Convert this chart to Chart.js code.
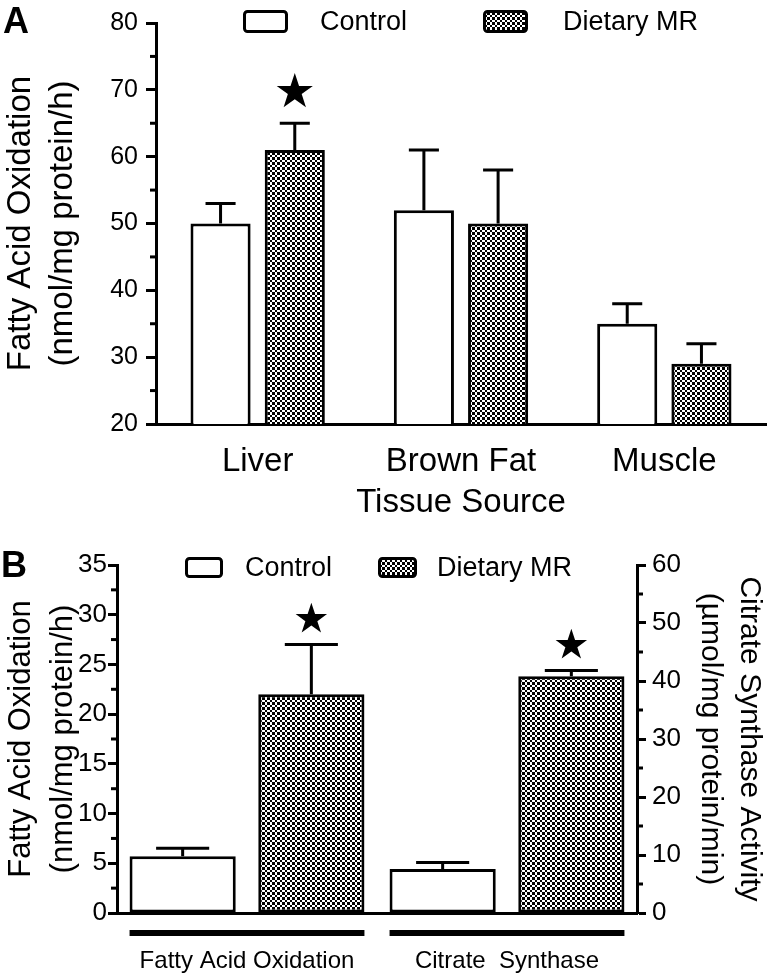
<!DOCTYPE html>
<html><head><meta charset="utf-8">
<script src="https://cdn.jsdelivr.net/npm/chart.js@4/dist/chart.umd.min.js"></script>
<style>
html,body{margin:0;padding:0;background:#fff;}
#wrap{position:relative;width:771px;height:974px;overflow:hidden;font-family:"Liberation Sans",Arial,sans-serif;}
.panel{position:absolute;left:0;width:771px;}
#pA{top:0;height:530px}
#pB{top:530px;height:444px}
.letter{position:absolute;font-weight:bold;font-size:36px;line-height:1;color:#000;}
</style></head><body>
<div id="wrap">
 <div class="panel" id="pA"><canvas id="cA" width="771" height="530"></canvas></div>
 <div class="panel" id="pB"><canvas id="cB" width="771" height="444"></canvas></div>
 <div class="letter" style="left:3px;top:3px">A</div>
 <div class="letter" style="left:1px;top:547px">B</div>
</div>
<script>
// ---------- Panel A data ----------
const tissueLabels = ['Liver', 'Brown Fat', 'Muscle'];
const controlA = [50, 52, 35];
const controlAErr = [3, 9, 3];
const mrA = [61, 50, 29];
const mrAErr = [4, 8, 3];
const sigControlA = [false, false, false];
const sigMrA = [true, false, false];
const yTicksA = [20, 30, 40, 50, 60, 70, 80];

// ---------- Panel B data ----------
const measureLabels = ['Fatty Acid Oxidation', 'Citrate  Synthase'];
const controlFAO = 5.7, controlFAOErr = 0.8;
const mrFAO = 22, mrFAOErr = 5;
const controlCS = 7.6, controlCSErr = 1.1;
const mrCS = 40.8, mrCSErr = 1.0;
const sigB = [false, true, false, true];
const yTicksBLeft = [0, 5, 10, 15, 20, 25, 30, 35];
const yTicksBRight = [0, 10, 20, 30, 40, 50, 60];

Chart.defaults.font.family = '"Liberation Sans", Arial, sans-serif';
Chart.defaults.color = '#000';

function makePattern() {
  const c = document.createElement('canvas');
  c.width = 5; c.height = 5;
  const g = c.getContext('2d');
  g.fillStyle = '#fff'; g.fillRect(0, 0, 5, 5);
  g.fillStyle = '#000'; g.fillRect(0, 0, 2, 2); g.fillRect(2, 2, 3, 3);
  return g.createPattern(c, 'repeat');
}
const checker = makePattern();

function drawStar(ctx, cx, cy, R) {
  const r = R * 0.382;
  ctx.beginPath();
  for (let k = 0; k < 10; k++) {
    const rad = k % 2 === 0 ? R : r;
    const a = -Math.PI / 2 + k * Math.PI / 5;
    const px = cx + rad * Math.cos(a), py = cy + rad * Math.sin(a);
    if (k === 0) ctx.moveTo(px, py); else ctx.lineTo(px, py);
  }
  ctx.closePath();
  ctx.fill();
}

const errorBarsPlugin = {
  id: 'errorBars',
  afterDatasetsDraw(chart, args, opts) {
    const ctx = chart.ctx;
    ctx.save();
    ctx.strokeStyle = '#000'; ctx.fillStyle = '#000'; ctx.lineWidth = 3;
    chart.data.datasets.forEach((ds, di) => {
      const meta = chart.getDatasetMeta(di);
      const ys = chart.scales[meta.yAxisID];
      meta.data.forEach((bar, i) => {
        const v = ds.data[i];
        if (v === null || v === undefined) return;
        const e = ds.errors[i];
        const yTop = ys.getPixelForValue(v + e);
        const half = bar.width / 4;
        ctx.beginPath();
        ctx.moveTo(bar.x, bar.y); ctx.lineTo(bar.x, yTop);
        ctx.moveTo(bar.x - half, yTop); ctx.lineTo(bar.x + half, yTop);
        ctx.stroke();
        if (ds.sig && ds.sig[i]) {
          const R = opts.starR;
          drawStar(ctx, bar.x, yTop - opts.starGap - 0.809 * R, R);
        }
      });
    });
    ctx.restore();
  }
};

const minorTicksPlugin = {
  id: 'minorTicks',
  afterDraw(chart, args, opts) {
    const ctx = chart.ctx;
    ctx.save(); ctx.strokeStyle = '#000'; ctx.lineWidth = 3;
    (opts.axes || []).forEach(a => {
      const s = chart.scales[a.id];
      const left = s.position === 'left';
      const x0 = left ? chart.chartArea.left : chart.chartArea.right;
      const dir = left ? -1 : 1;
      for (let v = s.min + a.step / 2; v < s.max; v += a.step) {
        const y = s.getPixelForValue(v);
        ctx.beginPath(); ctx.moveTo(x0, y); ctx.lineTo(x0 + dir * a.len, y); ctx.stroke();
      }
    });
    ctx.restore();
  }
};

const legendPlugin = {
  id: 'boxLegend',
  afterDraw(chart, args, opts) {
    const ctx = chart.ctx;
    ctx.save();
    ctx.font = opts.fontSize + 'px "Liberation Sans", Arial, sans-serif';
    ctx.textBaseline = 'middle'; ctx.textAlign = 'left';
    opts.items.forEach(it => {
      ctx.beginPath();
      if (ctx.roundRect) ctx.roundRect(it.x + 1.5, it.y + 1.5, it.w - 3, it.h - 3, 3);
      else ctx.rect(it.x + 1.5, it.y + 1.5, it.w - 3, it.h - 3);
      ctx.fillStyle = it.fill; ctx.fill();
      ctx.lineWidth = 3; ctx.strokeStyle = '#000'; ctx.stroke();
      ctx.fillStyle = '#000';
      ctx.fillText(it.text, it.tx, it.y + it.h / 2 + 1);
    });
    ctx.restore();
  }
};

const groupLinesPlugin = {
  id: 'groupLines',
  afterDraw(chart, args, opts) {
    const ctx = chart.ctx;
    const xs = chart.scales.x;
    ctx.save(); ctx.fillStyle = '#000';
    chart.data.labels.forEach((lab, i) => {
      let lo = Infinity, hi = -Infinity;
      chart.data.datasets.forEach((ds, di) => {
        if (ds.data[i] === null) return;
        const b = chart.getDatasetMeta(di).data[i];
        lo = Math.min(lo, b.x - b.width / 2);
        hi = Math.max(hi, b.x + b.width / 2);
      });
      ctx.fillRect(lo, xs.top + opts.offset, hi - lo, opts.thick);
    });
    ctx.restore();
  }
};

const barStyle = (fill) => ({
  backgroundColor: fill, borderColor: '#000', borderWidth: 3, borderSkipped: false
});

// ---------- Chart A ----------
new Chart(document.getElementById('cA'), {
  type: 'bar',
  data: {
    labels: tissueLabels,
    datasets: [
      Object.assign({ label: 'Control', data: controlA, errors: controlAErr, sig: sigControlA,
        categoryPercentage: 0.73, barPercentage: 0.81 }, barStyle('#fff')),
      Object.assign({ label: 'Dietary MR', data: mrA, errors: mrAErr, sig: sigMrA,
        categoryPercentage: 0.73, barPercentage: 0.81 }, barStyle(checker))
    ]
  },
  options: {
    responsive: false, animation: false, devicePixelRatio: 1,
    layout: { padding: { left: 0, right: 5, top: 16, bottom: 0 } },
    plugins: {
      legend: { display: false }, tooltip: { enabled: false },
      errorBars: { starR: 19, starGap: 16 },
      minorTicks: { axes: [{ id: 'y', step: 10, len: 6 }] },
      boxLegend: { fontSize: 27, items: [
        { x: 243, y: 10, w: 45, h: 23, fill: '#fff', text: 'Control', tx: 320 },
        { x: 483, y: 10, w: 45, h: 23, fill: checker, text: 'Dietary MR', tx: 563 }
      ] }
    },
    scales: {
      x: {
        grid: { display: false, drawTicks: false },
        border: { display: true, color: '#000', width: 3 },
        ticks: { color: '#000', font: { size: 33 }, padding: 18, maxRotation: 0, autoSkip: false },
        title: { display: true, text: 'Tissue Source', color: '#000', font: { size: 33 }, padding: { top: 0, bottom: 7 } },
        afterFit(s) { s.height = 106; }
      },
      y: {
        min: 20, max: 80,
        afterBuildTicks(s) { s.ticks = yTicksA.map(v => ({ value: v })); },
        ticks: { color: '#000', font: { size: 25 }, padding: 8 },
        grid: { display: true, drawOnChartArea: false, drawTicks: true, tickLength: 10, tickWidth: 3, tickColor: '#000' },
        border: { display: true, color: '#000', width: 3 },
        title: { display: true, text: ['Fatty Acid Oxidation', '(nmol/mg protein/h)'], color: '#000',
          font: { size: 33, lineHeight: 1.28 }, padding: { top: 0, bottom: 0 } },
        afterFit(s) { s.width = 156; }
      }
    }
  },
  plugins: [errorBarsPlugin, minorTicksPlugin, legendPlugin]
});

// ---------- Chart B ----------
const commonB = { categoryPercentage: 0.99, barPercentage: 0.825, skipNull: true };
new Chart(document.getElementById('cB'), {
  type: 'bar',
  data: {
    labels: measureLabels,
    datasets: [
      Object.assign({ label: 'Control', data: [controlFAO, null], errors: [controlFAOErr, 0], sig: [sigB[0], false], yAxisID: 'y' }, commonB, barStyle('#fff')),
      Object.assign({ label: 'Dietary MR', data: [mrFAO, null], errors: [mrFAOErr, 0], sig: [sigB[1], false], yAxisID: 'y' }, commonB, barStyle(checker)),
      Object.assign({ label: 'Control', data: [null, controlCS], errors: [0, controlCSErr], sig: [false, sigB[2]], yAxisID: 'y2' }, commonB, barStyle('#fff')),
      Object.assign({ label: 'Dietary MR', data: [null, mrCS], errors: [0, mrCSErr], sig: [false, sigB[3]], yAxisID: 'y2' }, commonB, barStyle(checker))
    ]
  },
  options: {
    responsive: false, animation: false, devicePixelRatio: 1,
    layout: { padding: { left: 0, right: 0, top: 35, bottom: 0 } },
    plugins: {
      legend: { display: false }, tooltip: { enabled: false },
      errorBars: { starR: 16.5, starGap: 12 },
      minorTicks: { axes: [{ id: 'y', step: 5, len: 6 }, { id: 'y2', step: 10, len: 6 }] },
      boxLegend: { fontSize: 27, items: [
        { x: 185, y: 27, w: 38, h: 21, fill: '#fff', text: 'Control', tx: 245 },
        { x: 378, y: 27, w: 39, h: 21, fill: checker, text: 'Dietary MR', tx: 437 }
      ] },
      groupLines: { offset: 17, thick: 6 }
    },
    scales: {
      x: {
        grid: { display: false, drawTicks: false },
        border: { display: true, color: '#000', width: 3 },
        ticks: { color: '#000', font: { size: 24 }, padding: 34, maxRotation: 0, autoSkip: false },
        afterFit(s) { s.height = 61; }
      },
      y: {
        position: 'left', min: 0, max: 35,
        afterBuildTicks(s) { s.ticks = yTicksBLeft.map(v => ({ value: v })); },
        ticks: { color: '#000', font: { size: 26 }, padding: 1 },
        grid: { display: true, drawOnChartArea: false, drawTicks: true, tickLength: 9, tickWidth: 3, tickColor: '#000' },
        border: { display: true, color: '#000', width: 3 },
        title: { display: true, text: ['Fatty Acid Oxidation', '(nmol/mg protein/h)'], color: '#000',
          font: { size: 31, lineHeight: 1.36 }, padding: { top: 0, bottom: 0 } },
        afterFit(s) { s.width = 117; }
      },
      y2: {
        position: 'right', min: 0, max: 60,
        afterBuildTicks(s) { s.ticks = yTicksBRight.map(v => ({ value: v })); },
        ticks: { color: '#000', font: { size: 26 }, padding: 6 },
        grid: { display: true, drawOnChartArea: false, drawTicks: true, tickLength: 9, tickWidth: 3, tickColor: '#000' },
        border: { display: true, color: '#000', width: 3 },
        title: { display: true, text: ['Citrate Synthase Activity', '(\u00b5mol/mg protein/min)'], color: '#000',
          font: { size: 30, lineHeight: 1.3 }, padding: { top: 2, bottom: 0 } },
        afterFit(s) { s.width = 134; }
      }
    }
  },
  plugins: [errorBarsPlugin, minorTicksPlugin, legendPlugin, groupLinesPlugin]
});
</script>
</body></html>
